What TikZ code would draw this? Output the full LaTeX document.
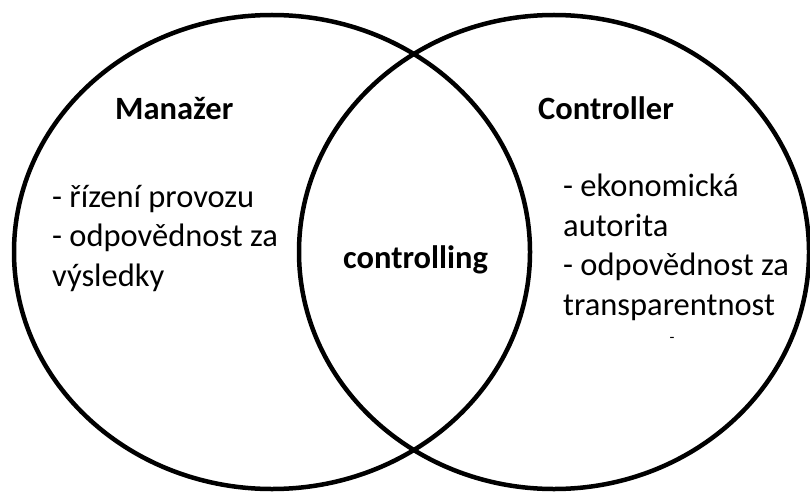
\documentclass[tikz,border=0pt]{standalone}
\usepackage{fontspec}
\setmainfont{Carlito}
\usetikzlibrary{shapes.geometric}
\begin{document}
\begin{tikzpicture}[x=1pt,y=-1pt,
  set/.style={draw=black, line width=4.5pt, shape=ellipse, inner sep=0pt,
              minimum width=#1*2pt},
  title/.style={anchor=base west, inner sep=0pt, font=\fontsize{32.5}{39.5}\selectfont\bfseries},
  % multi-line blocks are anchored at the baseline of their last line
  items/.style={anchor=base west, inner sep=0pt, align=left, font=\fontsize{32.5}{39.5}\selectfont}]
  \useasboundingbox (0,0) rectangle (810,492);

  % the two overlapping sets
  \node[set=258, minimum height=474pt] (manager) at (272,252) {};
  \node[set=255, minimum height=474pt] (controller) at (554,252) {};

  % headings
  \node[title] (managerTitle) at (115,120) {Manažer};
  \node[title] (controllerTitle) at (538,120) {Controller};
  \node[title] (overlap) at (343,268) {controlling};

  % duties of each role
  \node[items] (managerItems) at (52,286)
    {- řízení provozu\\- odpovědnost za\\výsledky};
  \node[items] (controllerItems) at (563,315)
    {- ekonomická\\autorita\\- odpovědnost za\\transparentnost};
  \node[anchor=base, inner sep=0pt, font=\fontsize{16}{19}\selectfont] (dash) at (672,342) {-};
\end{tikzpicture}
\end{document}
